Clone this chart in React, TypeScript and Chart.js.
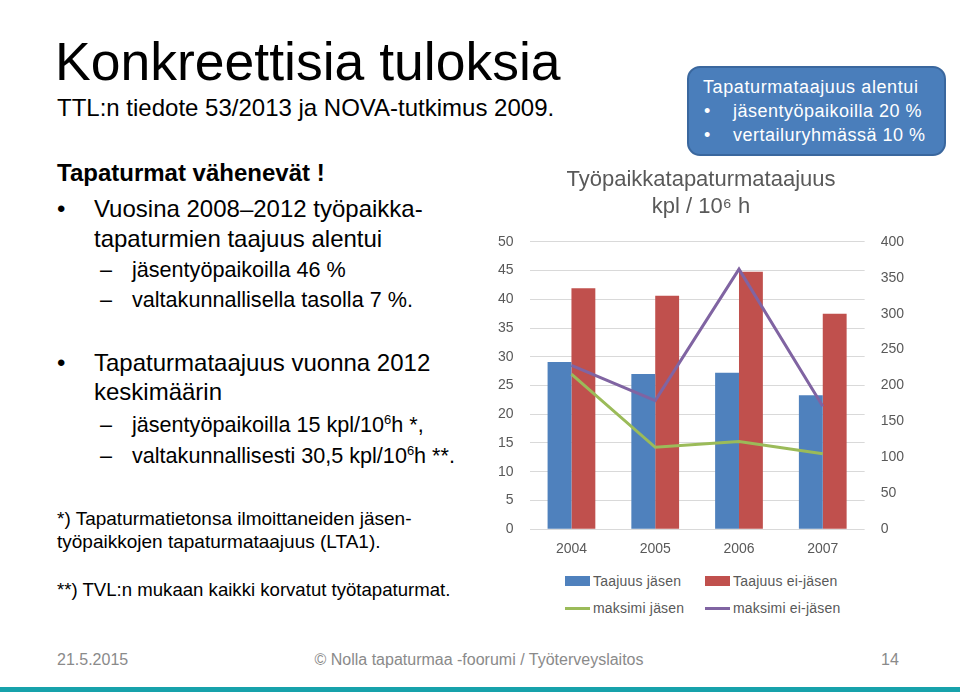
import { useEffect, useRef } from 'react';
import { Chart, registerables } from 'chart.js';

Chart.register(...registerables);

const years = ['2004', '2005', '2006', '2007'];
const taajuusJasen = [29.1, 27.0, 27.2, 23.3];
const taajuusEiJasen = [41.9, 40.6, 44.8, 37.5];
const maksimiJasen = [216, 114, 122, 105];
const maksimiEiJasen = [228, 179, 362, 171];

const FONT = '"Liberation Sans", Arial, Helvetica, sans-serif';
const GREY = '#595959';
const BLUE = '#4F81BD';
const RED = '#C0504D';
const GREEN = '#9BBB59';
const PURPLE = '#8064A2';

type TextProps = {
  x: number;
  cy: number;
  size: number;
  bold?: boolean;
  color?: string;
  children: React.ReactNode;
  spacing?: number;
};

// one line of slide text, placed by its visual centre
const Txt = ({ x, cy, size, bold, color = '#000', children, spacing = 0 }: TextProps) => (
  <div
    style={{
      position: 'absolute',
      left: x,
      top: cy - 0.49 * size,
      fontSize: size,
      lineHeight: 1,
      fontWeight: bold ? 'bold' : 'normal',
      color,
      whiteSpace: 'nowrap',
      letterSpacing: spacing,
    }}
  >
    {children}
  </div>
);

const Sup = ({ children }: { children: React.ReactNode }) => (
  <span style={{ fontSize: '0.6em', verticalAlign: 'super', lineHeight: 0 }}>{children}</span>
);

const FrequencyChart = () => {
  const chartRef = useRef<HTMLCanvasElement>(null);
  const chartInstance = useRef<Chart | null>(null);

  useEffect(() => {
    if (!chartRef.current) return;
    const ctx = chartRef.current.getContext('2d');
    if (!ctx) return;
    if (chartInstance.current) chartInstance.current.destroy();

    const tickFont = { family: FONT, size: 14 };

    chartInstance.current = new Chart(ctx, {
      type: 'bar',
      data: {
        labels: years,
        datasets: [
          { label: 'Taajuus jäsen', data: taajuusJasen, backgroundColor: BLUE, yAxisID: 'y', order: 1 },
          { label: 'Taajuus ei-jäsen', data: taajuusEiJasen, backgroundColor: RED, yAxisID: 'y', order: 1 },
          {
            type: 'line',
            label: 'maksimi jäsen',
            data: maksimiJasen,
            borderColor: GREEN,
            borderWidth: 3,
            pointRadius: 0,
            yAxisID: 'y2',
            order: 0,
          },
          {
            type: 'line',
            label: 'maksimi ei-jäsen',
            data: maksimiEiJasen,
            borderColor: PURPLE,
            borderWidth: 3,
            pointRadius: 0,
            yAxisID: 'y2',
            order: 0,
          },
        ] as any,
      },
      options: {
        animation: false,
        responsive: true,
        maintainAspectRatio: false,
        layout: { padding: { left: 6, right: 17, top: 0, bottom: 2 } },
        datasets: { bar: { categoryPercentage: 0.57, barPercentage: 1 } },
        plugins: {
          legend: { display: false },
          tooltip: { enabled: false },
          title: {
            display: true,
            text: ['Työpaikkatapaturmataajuus', 'kpl / 10⁶ h'],
            color: GREY,
            font: { family: FONT, size: 22, weight: 'normal' },
            padding: { top: 7, bottom: 22 },
          },
        },
        scales: {
          x: {
            grid: { display: false, drawTicks: false },
            border: { display: false },
            ticks: { color: GREY, font: tickFont, padding: 12 },
          },
          y: {
            position: 'left',
            min: 0,
            max: 50,
            ticks: { stepSize: 5, color: GREY, font: tickFont, padding: 16 },
            grid: { color: '#d9d9d9', drawTicks: false },
            border: { display: false },
          },
          y2: {
            position: 'right',
            min: 0,
            max: 400,
            ticks: { stepSize: 50, color: GREY, font: tickFont, padding: 16 },
            grid: { display: false, drawTicks: false },
            border: { display: false },
          },
        },
      },
    });

    return () => {
      if (chartInstance.current) {
        chartInstance.current.destroy();
        chartInstance.current = null;
      }
    };
  }, []);

  return (
    <div style={{ position: 'absolute', left: 476, top: 160, width: 461, height: 412 }}>
      <canvas ref={chartRef}></canvas>
    </div>
  );
};

const LegendItem = ({ x, cy, color, line, label }: { x: number; cy: number; color: string; line?: boolean; label: string }) => (
  <>
    <div
      style={{
        position: 'absolute',
        left: x,
        top: line ? cy - 1.5 : cy - 5,
        width: 25,
        height: line ? 3 : 10,
        background: color,
      }}
    />
    <Txt x={x + 28} cy={cy} size={14} color={GREY} spacing={0.2}>
      {label}
    </Txt>
  </>
);

export default function App() {
  useEffect(() => {
    document.body.style.margin = '0';
  }, []);

  return (
    <div
      style={{
        position: 'relative',
        width: 960,
        height: 692,
        overflow: 'hidden',
        background: '#fff',
        fontFamily: FONT,
      }}
    >
      <Txt x={55} cy={61} size={53.5}>Konkreettisia tuloksia</Txt>
      <Txt x={57} cy={108} size={24}>TTL:n tiedote 53/2013 ja NOVA-tutkimus 2009.</Txt>

      <Txt x={57} cy={173} size={24} bold>Tapaturmat vähenevät !</Txt>
      <Txt x={57} cy={209} size={24}>•</Txt>
      <Txt x={94} cy={209} size={24}>Vuosina 2008–2012 työpaikka-</Txt>
      <Txt x={94} cy={239} size={24}>tapaturmien taajuus alentui</Txt>
      <Txt x={100} cy={270} size={21.6}>–</Txt>
      <Txt x={132} cy={270} size={21.6}>jäsentyöpaikoilla 46 %</Txt>
      <Txt x={100} cy={300} size={21.6}>–</Txt>
      <Txt x={132} cy={300} size={21.6}>valtakunnallisella tasolla 7 %.</Txt>

      <Txt x={57} cy={363} size={24}>•</Txt>
      <Txt x={94} cy={363} size={24}>Tapaturmataajuus vuonna 2012</Txt>
      <Txt x={94} cy={392} size={24}>keskimäärin</Txt>
      <Txt x={100} cy={425} size={21.6}>–</Txt>
      <Txt x={132} cy={425} size={21.6}>
        jäsentyöpaikoilla 15 kpl/10<Sup>6</Sup>h *,
      </Txt>
      <Txt x={100} cy={456} size={21.6}>–</Txt>
      <Txt x={132} cy={456} size={21.6}>
        valtakunnallisesti 30,5 kpl/10<Sup>6</Sup>h **.
      </Txt>

      <Txt x={57} cy={518} size={19}>*) Tapaturmatietonsa ilmoittaneiden jäsen-</Txt>
      <Txt x={57} cy={541} size={19}>työpaikkojen tapaturmataajuus (LTA1).</Txt>
      <Txt x={57} cy={590} size={18.6}>**) TVL:n mukaan kaikki korvatut työtapaturmat.</Txt>

      <div
        style={{
          position: 'absolute',
          left: 687,
          top: 66,
          width: 255,
          height: 86,
          background: '#4A7EBB',
          border: '2px solid #3A679E',
          borderRadius: 13,
        }}
      />
      <Txt x={703} cy={87} size={18} color="#fff" spacing={0.6}>Tapaturmataajuus alentui</Txt>
      <Txt x={704} cy={111} size={18} color="#fff">•</Txt>
      <Txt x={733} cy={111} size={18} color="#fff" spacing={0.5}>jäsentyöpaikoilla 20 %</Txt>
      <Txt x={704} cy={135} size={18} color="#fff">•</Txt>
      <Txt x={733} cy={135} size={18} color="#fff" spacing={0.5}>vertailuryhmässä 10 %</Txt>

      <FrequencyChart />

      <LegendItem x={565} cy={581} color={BLUE} label="Taajuus jäsen" />
      <LegendItem x={705} cy={581} color={RED} label="Taajuus ei-jäsen" />
      <LegendItem x={565} cy={608} color={GREEN} line label="maksimi jäsen" />
      <LegendItem x={705} cy={608} color={PURPLE} line label="maksimi ei-jäsen" />

      <Txt x={57} cy={660} size={16} color="#8a8a8a">21.5.2015</Txt>
      <div
        style={{
          position: 'absolute',
          left: 0,
          width: 958,
          top: 660 - 8,
          textAlign: 'center',
          fontSize: 16,
          lineHeight: 1,
          color: '#8a8a8a',
        }}
      >
        © Nolla tapaturmaa -foorumi / Työterveyslaitos
      </div>
      <Txt x={881} cy={660} size={16} color="#8a8a8a">14</Txt>
      <div style={{ position: 'absolute', left: 0, top: 687, width: 960, height: 5, background: '#17A2AB' }} />
    </div>
  );
}
